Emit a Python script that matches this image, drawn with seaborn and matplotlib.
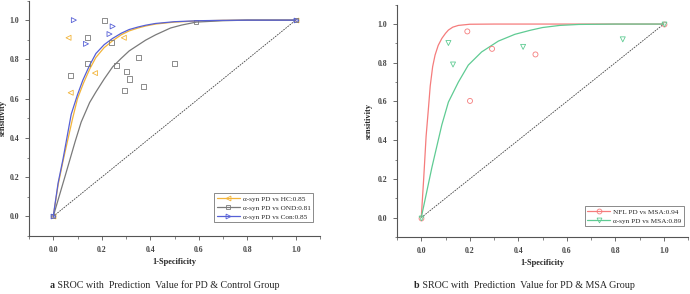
import matplotlib
matplotlib.use("Agg")
import matplotlib.pyplot as plt
import seaborn as sns
import pandas as pd
from matplotlib.ticker import MultipleLocator

# ---------------- data ----------------
# Panel a: study points (1-specificity, sensitivity)
hc_x = [0.063, 0.072, 0.172, 0.291]
hc_y = [0.91, 0.63, 0.73, 0.91]
ond_x = [0.213, 0.143, 0.142, 0.072, 0.242, 0.262, 0.302, 0.313, 0.292, 0.351, 0.372, 0.501]
ond_y = [1.00, 0.91, 0.78, 0.72, 0.888, 0.769, 0.74, 0.70, 0.64, 0.81, 0.66, 0.78]
con_x = [0.085, 0.135, 0.232, 0.245]
con_y = [1.00, 0.879, 0.929, 0.968]

# Panel a: SROC curves
hc_curve_x = [0, 0.02, 0.04, 0.08, 0.10, 0.125, 0.15, 0.176, 0.21, 0.245, 0.28, 0.313, 0.35, 0.381, 0.422, 0.50, 0.60, 0.70, 0.80, 1.0]
hc_curve_y = [0, 0.16, 0.28, 0.50, 0.60, 0.68, 0.75, 0.81, 0.86, 0.895, 0.925, 0.945, 0.96, 0.97, 0.98, 0.99, 0.996, 0.999, 1.0, 1.0]
ond_curve_x = [0, 0.05, 0.09, 0.115, 0.15, 0.176, 0.21, 0.245, 0.28, 0.313, 0.35, 0.381, 0.422, 0.484, 0.53, 0.59, 0.70, 0.80, 1.0]
ond_curve_y = [0, 0.21, 0.38, 0.48, 0.58, 0.634, 0.70, 0.762, 0.805, 0.843, 0.873, 0.898, 0.925, 0.96, 0.975, 0.99, 0.997, 1.0, 1.0]
con_curve_x = [0, 0.02, 0.04, 0.074, 0.10, 0.122, 0.15, 0.176, 0.21, 0.245, 0.28, 0.313, 0.35, 0.381, 0.422, 0.50, 0.60, 0.70, 0.80, 1.0]
con_curve_y = [0, 0.17, 0.29, 0.52, 0.62, 0.694, 0.77, 0.83, 0.875, 0.907, 0.933, 0.952, 0.965, 0.974, 0.983, 0.992, 0.997, 0.999, 1.0, 1.0]

# Panel b: study points
nfl_x = [0.19, 0.292, 0.471, 0.201]
nfl_y = [0.962, 0.872, 0.843, 0.603]
syn_x = [0.112, 0.131, 0.42, 0.831]
syn_y = [0.902, 0.791, 0.882, 0.921]

# Panel b: SROC curves
nfl_curve_x = [0, 0.01, 0.02, 0.03, 0.037, 0.047, 0.057, 0.07, 0.085, 0.10, 0.112, 0.13, 0.153, 0.20, 0.30, 1.0]
nfl_curve_y = [0, 0.20, 0.42, 0.57, 0.68, 0.78, 0.84, 0.89, 0.926, 0.952, 0.969, 0.984, 0.993, 0.999, 1.0, 1.0]
syn_curve_x = [0, 0.044, 0.085, 0.112, 0.153, 0.194, 0.249, 0.318, 0.386, 0.45, 0.50, 0.571, 0.65, 0.80, 1.0]
syn_curve_y = [0, 0.26, 0.48, 0.597, 0.70, 0.788, 0.856, 0.912, 0.947, 0.968, 0.982, 0.993, 0.998, 1.0, 1.0]

tick_vals = [0, 0.2, 0.4, 0.6, 0.8, 1.0]
tick_labels = ["0.0", "0.2", "0.4", "0.6", "0.8", "1.0"]
labels_a = ["α-syn PD vs HC:0.85", "α-syn PD vs OND:0.81", "α-syn PD vs Con:0.85"]
labels_b = ["NFL PD vs MSA:0.94", "α-syn PD vs MSA:0.89"]
captions = [("a", " SROC with  Prediction  Value for PD & Control Group"),
            ("b", " SROC with  Prediction  Value for PD & MSA Group")]

# ---------------- style ----------------
sns.set_style("white")
plt.rcParams["font.family"] = ["Liberation Serif", "DejaVu Serif"]

C_OR = "#F2B43A"
C_GR = "#7A7A7A"
C_BL = "#5660D6"
C_RD = "#F57C7C"
C_GN = "#5FCB93"

fig = plt.figure(figsize=(6.9, 2.94), dpi=100)
W, H = 690, 294
ax_a = fig.add_axes([29 / W, 58 / H, 291 / W, 235.5 / H])
ax_b = fig.add_axes([397 / W, 57 / H, 291 / W, 232.3 / H])


def style_axis(ax, ylab_x):
    ax.set_xlim(-0.1, 1.1)
    ax.set_ylim(-0.1, 1.1)
    sns.despine(ax=ax)
    for s in ["left", "bottom"]:
        ax.spines[s].set_color("#555555")
        ax.spines[s].set_linewidth(0.8)
    ax.xaxis.set_minor_locator(MultipleLocator(0.1))
    ax.yaxis.set_minor_locator(MultipleLocator(0.1))
    ax.set_xticks(tick_vals)
    ax.set_yticks(tick_vals)
    ax.set_xticklabels(tick_labels)
    ax.set_yticklabels(tick_labels)
    ax.tick_params(which="major", direction="out", length=3, width=0.6,
                   color="#555555", labelsize=5.6, labelcolor="#444444", pad=4,
                   bottom=True, left=True)
    ax.tick_params(which="minor", direction="out", length=1.8, width=0.5,
                   color="#555555", bottom=True, left=True)
    for lab in ax.get_xticklabels() + ax.get_yticklabels():
        lab.set_fontweight("bold")
    ax.set_xlabel("1-Specificity", fontsize=6, fontweight="bold")
    ax.set_ylabel("sensitivity", fontsize=6, fontweight="bold")
    ax.xaxis.set_label_coords(0.5, -0.095)
    ax.yaxis.set_label_coords(ylab_x, 0.5)
    ax.plot([0, 1], [0, 1], color="#444444", lw=0.6, ls=(0, (2, 1.2)), zorder=1)


def curve(ax, xs, ys, color, marker, label, markevery):
    df = pd.DataFrame({"x": xs, "y": ys})
    sns.lineplot(data=df, x="x", y="y", ax=ax, color=color, lw=0.9, sort=False,
                 estimator=None, marker=marker, markersize=3.5, markevery=markevery,
                 markerfacecolor="none", markeredgecolor=color, markeredgewidth=0.6,
                 label=label, zorder=3)


def points(ax, xs, ys, color, marker):
    ax.scatter(xs, ys, marker=marker, s=13, facecolors="none", edgecolors=color,
               linewidths=0.6, zorder=4)


def legend(ax, anchor):
    leg = ax.legend(loc="lower right", bbox_to_anchor=anchor, fontsize=5.2,
                    frameon=True, fancybox=False, edgecolor="#555555",
                    handlelength=3.2, handletextpad=0.4, borderpad=0.35,
                    labelspacing=0.4, borderaxespad=0)
    leg.get_frame().set_linewidth(0.6)


# Panel a
style_axis(ax_a, -0.075)
points(ax_a, hc_x, hc_y, C_OR, "<")
points(ax_a, ond_x, ond_y, C_GR, "s")
points(ax_a, con_x, con_y, C_BL, ">")
curve(ax_a, hc_curve_x, hc_curve_y, C_OR, "<", labels_a[0], [0, len(hc_curve_x) - 1])
curve(ax_a, ond_curve_x, ond_curve_y, C_GR, "s", labels_a[1], [0, 15, len(ond_curve_x) - 1])
curve(ax_a, con_curve_x, con_curve_y, C_BL, ">", labels_a[2], [0, len(con_curve_x) - 1])
legend(ax_a, (0.976, 0.059))

# Panel b
style_axis(ax_b, -0.083)
points(ax_b, nfl_x, nfl_y, C_RD, "o")
points(ax_b, syn_x, syn_y, C_GN, "v")
curve(ax_b, nfl_curve_x, nfl_curve_y, C_RD, "o", labels_b[0], [0, len(nfl_curve_x) - 1])
curve(ax_b, syn_curve_x, syn_curve_y, C_GN, "v", labels_b[1], [0, len(syn_curve_x) - 1])
legend(ax_b, (0.986, 0.047))

# Captions
fig.canvas.draw()
renderer = fig.canvas.get_renderer()
for (bold, rest), x0 in zip(captions, [50, 414]):
    t = fig.text(x0 / W, 6 / H, bold, fontsize=7.2, fontweight="bold", ha="left", va="baseline")
    bb = t.get_window_extent(renderer)
    fig.text(bb.x1 / W, 6 / H, rest, fontsize=7.2, ha="left", va="baseline")

fig.savefig("out.png", dpi=100)
